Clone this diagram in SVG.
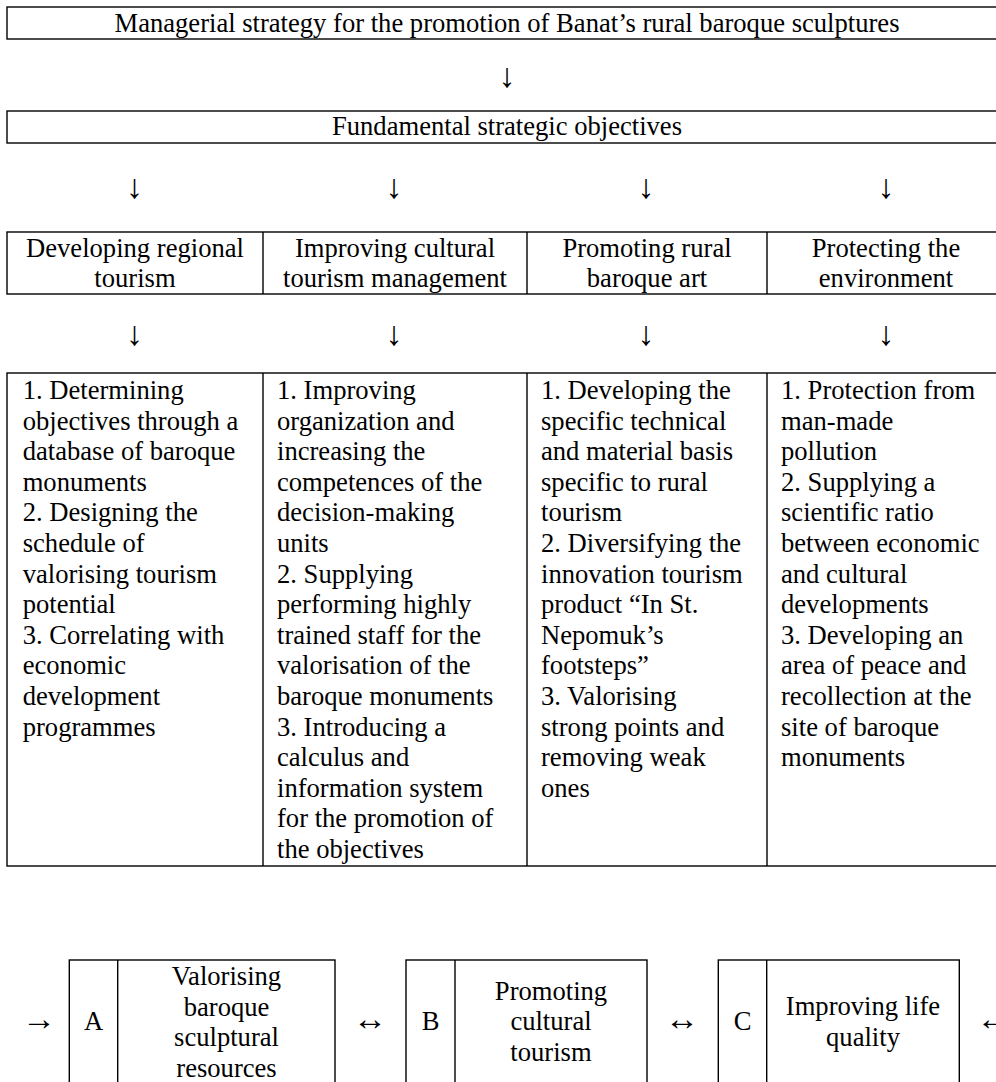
<svg xmlns="http://www.w3.org/2000/svg" width="996" height="1082" viewBox="0 0 996 1082">
<rect x="0" y="0" width="996" height="1082" fill="#fff"/>
<g fill="none" stroke="#000" stroke-width="1.4">
<rect id="strategy-box" x="7" y="7" width="1000" height="32"/>
<rect id="fundamental-box" x="7" y="111" width="1000" height="32"/>
<rect id="objectives-box" x="7" y="232" width="1000" height="62"/>
<line x1="263" y1="232" x2="263" y2="294"/>
<line x1="527" y1="232" x2="527" y2="294"/>
<line x1="767" y1="232" x2="767" y2="294"/>
<rect id="actions-box" x="7" y="373" width="1000" height="493"/>
<line x1="263" y1="373" x2="263" y2="866"/>
<line x1="527" y1="373" x2="527" y2="866"/>
<line x1="767" y1="373" x2="767" y2="866"/>
<rect id="boxA" x="69.3" y="960" width="265.7" height="140"/>
<line x1="117.7" y1="960" x2="117.7" y2="1100"/>
<rect id="boxB" x="406" y="960" width="241" height="140"/>
<line x1="455" y1="960" x2="455" y2="1100"/>
<rect id="boxC" x="718.3" y="960" width="241" height="140"/>
<line x1="766.7" y1="960" x2="766.7" y2="1100"/>
</g>
<g id="strategy">
<text font-family="Liberation Serif" font-size="26.6" text-anchor="middle" x="507" y="32">Managerial strategy for the promotion of Banat’s rural baroque sculptures</text>
</g>
<g id="fundamental">
<text font-family="Liberation Serif" font-size="26.6" text-anchor="middle" x="507" y="135">Fundamental strategic objectives</text>
</g>
<g id="obj1"><text font-family="Liberation Serif" font-size="26.6" text-anchor="middle" x="135" y="257">Developing regional</text><text font-family="Liberation Serif" font-size="26.6" text-anchor="middle" x="135" y="287">tourism</text></g>
<g id="obj2"><text font-family="Liberation Serif" font-size="26.6" text-anchor="middle" x="395" y="257">Improving cultural</text><text font-family="Liberation Serif" font-size="26.6" text-anchor="middle" x="395" y="287">tourism management</text></g>
<g id="obj3"><text font-family="Liberation Serif" font-size="26.6" text-anchor="middle" x="647" y="257">Promoting rural</text><text font-family="Liberation Serif" font-size="26.6" text-anchor="middle" x="647" y="287">baroque art</text></g>
<g id="obj4"><text font-family="Liberation Serif" font-size="26.6" text-anchor="middle" x="886" y="257">Protecting the</text><text font-family="Liberation Serif" font-size="26.6" text-anchor="middle" x="886" y="287">environment</text></g>
<g id="act1">
<text font-family="Liberation Serif" font-size="26.6" x="22.7" y="399">1. Determining</text>
<text font-family="Liberation Serif" font-size="26.6" x="22.7" y="429.6">objectives through a</text>
<text font-family="Liberation Serif" font-size="26.6" x="22.7" y="460.2">database of baroque</text>
<text font-family="Liberation Serif" font-size="26.6" x="22.7" y="490.8">monuments</text>
<text font-family="Liberation Serif" font-size="26.6" x="22.7" y="521.4">2. Designing the</text>
<text font-family="Liberation Serif" font-size="26.6" x="22.7" y="552">schedule of</text>
<text font-family="Liberation Serif" font-size="26.6" x="22.7" y="582.6">valorising tourism</text>
<text font-family="Liberation Serif" font-size="26.6" x="22.7" y="613.2">potential</text>
<text font-family="Liberation Serif" font-size="26.6" x="22.7" y="643.8">3. Correlating with</text>
<text font-family="Liberation Serif" font-size="26.6" x="22.7" y="674.4">economic</text>
<text font-family="Liberation Serif" font-size="26.6" x="22.7" y="705">development</text>
<text font-family="Liberation Serif" font-size="26.6" x="22.7" y="735.6">programmes</text>
</g>
<g id="act2">
<text font-family="Liberation Serif" font-size="26.6" x="277" y="399">1. Improving</text>
<text font-family="Liberation Serif" font-size="26.6" x="277" y="429.6">organization and</text>
<text font-family="Liberation Serif" font-size="26.6" x="277" y="460.2">increasing the</text>
<text font-family="Liberation Serif" font-size="26.6" x="277" y="490.8">competences of the</text>
<text font-family="Liberation Serif" font-size="26.6" x="277" y="521.4">decision-making</text>
<text font-family="Liberation Serif" font-size="26.6" x="277" y="552">units</text>
<text font-family="Liberation Serif" font-size="26.6" x="277" y="582.6">2. Supplying</text>
<text font-family="Liberation Serif" font-size="26.6" x="277" y="613.2">performing highly</text>
<text font-family="Liberation Serif" font-size="26.6" x="277" y="643.8">trained staff for the</text>
<text font-family="Liberation Serif" font-size="26.6" x="277" y="674.4">valorisation of the</text>
<text font-family="Liberation Serif" font-size="26.6" x="277" y="705">baroque monuments</text>
<text font-family="Liberation Serif" font-size="26.6" x="277" y="735.6">3. Introducing a</text>
<text font-family="Liberation Serif" font-size="26.6" x="277" y="766.2">calculus and</text>
<text font-family="Liberation Serif" font-size="26.6" x="277" y="796.8">information system</text>
<text font-family="Liberation Serif" font-size="26.6" x="277" y="827.4">for the promotion of</text>
<text font-family="Liberation Serif" font-size="26.6" x="277" y="858">the objectives</text>
</g>
<g id="act3">
<text font-family="Liberation Serif" font-size="26.6" x="541" y="399">1. Developing the</text>
<text font-family="Liberation Serif" font-size="26.6" x="541" y="429.6">specific technical</text>
<text font-family="Liberation Serif" font-size="26.6" x="541" y="460.2">and material basis</text>
<text font-family="Liberation Serif" font-size="26.6" x="541" y="490.8">specific to rural</text>
<text font-family="Liberation Serif" font-size="26.6" x="541" y="521.4">tourism</text>
<text font-family="Liberation Serif" font-size="26.6" x="541" y="552">2. Diversifying the</text>
<text font-family="Liberation Serif" font-size="26.6" x="541" y="582.6">innovation tourism</text>
<text font-family="Liberation Serif" font-size="26.6" x="541" y="613.2">product “In St.</text>
<text font-family="Liberation Serif" font-size="26.6" x="541" y="643.8">Nepomuk’s</text>
<text font-family="Liberation Serif" font-size="26.6" x="541" y="674.4">footsteps”</text>
<text font-family="Liberation Serif" font-size="26.6" x="541" y="705">3. Valorising</text>
<text font-family="Liberation Serif" font-size="26.6" x="541" y="735.6">strong points and</text>
<text font-family="Liberation Serif" font-size="26.6" x="541" y="766.2">removing weak</text>
<text font-family="Liberation Serif" font-size="26.6" x="541" y="796.8">ones</text>
</g>
<g id="act4">
<text font-family="Liberation Serif" font-size="26.6" x="781" y="399">1. Protection from</text>
<text font-family="Liberation Serif" font-size="26.6" x="781" y="429.6">man-made</text>
<text font-family="Liberation Serif" font-size="26.6" x="781" y="460.2">pollution</text>
<text font-family="Liberation Serif" font-size="26.6" x="781" y="490.8">2. Supplying a</text>
<text font-family="Liberation Serif" font-size="26.6" x="781" y="521.4">scientific ratio</text>
<text font-family="Liberation Serif" font-size="26.6" x="781" y="552">between economic</text>
<text font-family="Liberation Serif" font-size="26.6" x="781" y="582.6">and cultural</text>
<text font-family="Liberation Serif" font-size="26.6" x="781" y="613.2">developments</text>
<text font-family="Liberation Serif" font-size="26.6" x="781" y="643.8">3. Developing an</text>
<text font-family="Liberation Serif" font-size="26.6" x="781" y="674.4">area of peace and</text>
<text font-family="Liberation Serif" font-size="26.6" x="781" y="705">recollection at the</text>
<text font-family="Liberation Serif" font-size="26.6" x="781" y="735.6">site of baroque</text>
<text font-family="Liberation Serif" font-size="26.6" x="781" y="766.2">monuments</text>
</g>
<g id="nodeA">
<text font-family="Liberation Serif" font-size="26.6" text-anchor="middle" x="93.5" y="1030">A</text>
<text font-family="Liberation Serif" font-size="26.6" text-anchor="middle" x="226.5" y="985">Valorising</text>
<text font-family="Liberation Serif" font-size="26.6" text-anchor="middle" x="226.5" y="1015.5">baroque</text>
<text font-family="Liberation Serif" font-size="26.6" text-anchor="middle" x="226.5" y="1046">sculptural</text>
<text font-family="Liberation Serif" font-size="26.6" text-anchor="middle" x="226.5" y="1076.5">resources</text>
</g>
<g id="nodeB">
<text font-family="Liberation Serif" font-size="26.6" text-anchor="middle" x="430.5" y="1030">B</text>
<text font-family="Liberation Serif" font-size="26.6" text-anchor="middle" x="551" y="999.5">Promoting</text>
<text font-family="Liberation Serif" font-size="26.6" text-anchor="middle" x="551" y="1030">cultural</text>
<text font-family="Liberation Serif" font-size="26.6" text-anchor="middle" x="551" y="1060.5">tourism</text>
</g>
<g id="nodeC">
<text font-family="Liberation Serif" font-size="26.6" text-anchor="middle" x="742.5" y="1030">C</text>
<text font-family="Liberation Serif" font-size="26.6" text-anchor="middle" x="863" y="1015">Improving life</text>
<text font-family="Liberation Serif" font-size="26.6" text-anchor="middle" x="863" y="1045.5">quality</text>
</g>
<g id="connectors">
<text font-family="Liberation Serif" font-size="34" text-anchor="middle" x="507" y="87">↓</text>
<text font-family="Liberation Serif" font-size="34" text-anchor="middle" x="134.5" y="198">↓</text>
<text font-family="Liberation Serif" font-size="34" text-anchor="middle" x="394" y="198">↓</text>
<text font-family="Liberation Serif" font-size="34" text-anchor="middle" x="646" y="198">↓</text>
<text font-family="Liberation Serif" font-size="34" text-anchor="middle" x="886" y="198">↓</text>
<text font-family="Liberation Serif" font-size="34" text-anchor="middle" x="134.5" y="345">↓</text>
<text font-family="Liberation Serif" font-size="34" text-anchor="middle" x="394" y="345">↓</text>
<text font-family="Liberation Serif" font-size="34" text-anchor="middle" x="646" y="345">↓</text>
<text font-family="Liberation Serif" font-size="34" text-anchor="middle" x="886" y="345">↓</text>
<text font-family="Liberation Serif" font-size="34" text-anchor="middle" x="39" y="1030">→</text>
<text font-family="Liberation Serif" font-size="34" text-anchor="middle" x="370" y="1030">↔</text>
<text font-family="Liberation Serif" font-size="34" text-anchor="middle" x="682" y="1030">↔</text>
<text font-family="Liberation Serif" font-size="34" x="976.5" y="1030">←</text>
</g>
</svg>
